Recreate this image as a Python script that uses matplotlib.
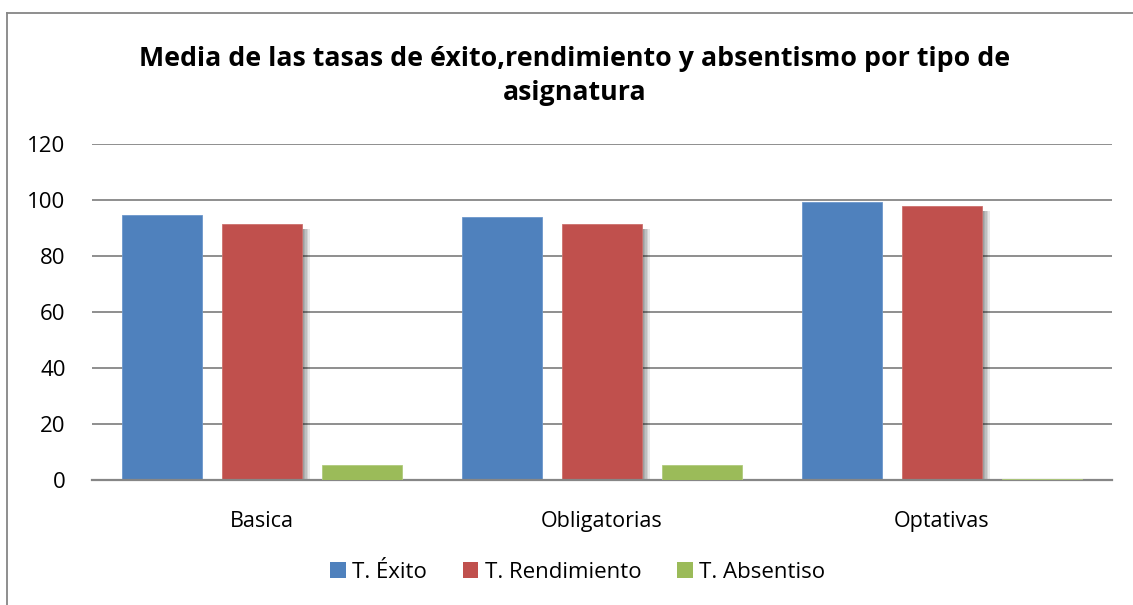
import numpy as np
import matplotlib.pyplot as plt
import matplotlib.patheffects as pe
from matplotlib.patches import Patch
from matplotlib.lines import Line2D

# data
categories = ["Basica", "Obligatorias", "Optativas"]
exito = [94.5, 94.1, 99.3]
rendimiento = [91.5, 91.4, 97.9]
absentismo = [5.2, 5.5, 0.5]
series_names = ["T. Éxito", "T. Rendimiento", "T. Absentiso"]
yticks = [0, 20, 40, 60, 80, 100, 120]

blue = "#4F81BD"
red = "#C0504D"
green = "#9BBB59"
grid_col = "#868686"

plt.rcParams["font.family"] = ["Open Sans", "DejaVu Sans"]

fig = plt.figure(figsize=(11.33, 6.05), dpi=100)
ax = fig.add_axes([92 / 1133, 1 - 480 / 605, 1020 / 1133, 336 / 605])

x = np.arange(len(categories))
w = 0.235
off = 0.295

ax.bar(x - off, exito, w, color=blue, edgecolor="#6C97CC", linewidth=0.6, zorder=3)

# soft shadow on the red series
shadow = [pe.SimplePatchShadow(offset=(d, -3.5), shadow_rgbFace="black", alpha=0.09)
          for d in (1.5, 2.5, 3.5, 4.5, 5.5)]
ax.bar(x, rendimiento, w, color=red, edgecolor="#CD716E", linewidth=0.6, zorder=3,
       path_effects=shadow + [pe.Normal()])

ax.bar(x + off, absentismo, w, color=green, edgecolor="#B0CB7D", linewidth=0.6, zorder=5)

ax.set_xlim(-0.5, 2.5)
ax.set_ylim(0, 120)
ax.set_yticks(yticks)
ax.set_xticks(x)
ax.set_xticklabels(categories)
ax.yaxis.grid(True, color=grid_col, linewidth=1.3, zorder=0)
ax.set_axisbelow(True)
for s in ["left", "right", "top"]:
    ax.spines[s].set_visible(False)
ax.spines["bottom"].set_color(grid_col)
ax.spines["bottom"].set_linewidth(1.6)
ax.spines["bottom"].set_zorder(4)
ax.tick_params(axis="y", length=0, pad=19, labelsize=16)
ax.tick_params(axis="x", length=0, pad=22, labelsize=15.5)

fig.text(0.5075, 1 - 76 / 605,
         "Media de las tasas de éxito,rendimiento y absentismo por tipo de\nasignatura",
         ha="center", va="center", fontsize=19.3, fontweight="bold", linespacing=1.45)

handles = [Patch(facecolor=c) for c in (blue, red, green)]
fig.legend(handles, series_names, loc="center", bbox_to_anchor=(0.51, 1 - 572 / 605),
           ncol=3, frameon=False, fontsize=16, handlelength=0.7, handleheight=0.7,
           handletextpad=0.3, columnspacing=1.6)

# outer chart border (top and left visible)
fig.add_artist(Line2D([7 / 1133, 1.0], [1 - 12.5 / 605] * 2, color=grid_col, linewidth=1.3))
fig.add_artist(Line2D([7 / 1133] * 2, [1 - 12.5 / 605, 0.0], color=grid_col, linewidth=1.3))

fig.savefig("out.png", dpi=100)
